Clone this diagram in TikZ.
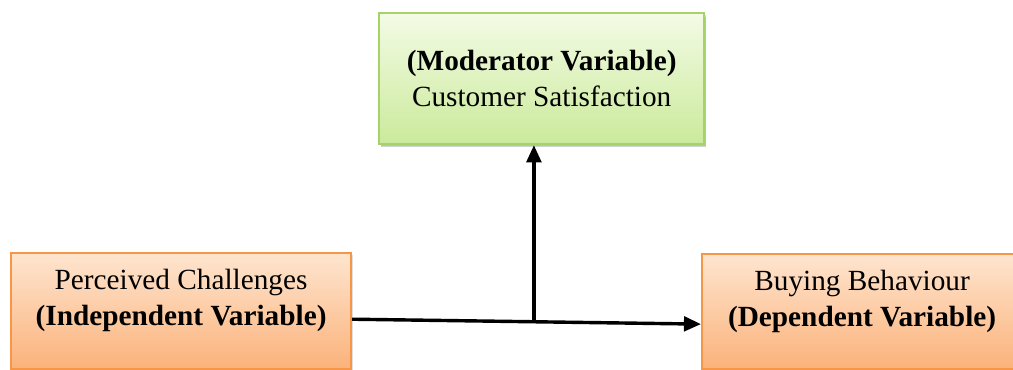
\documentclass[tikz,border=0pt]{standalone}
\usepackage{fontspec}
\setmainfont{Liberation Serif}
\usetikzlibrary{arrows.meta,calc,shadows,positioning}

\definecolor{modline}{HTML}{A6D26A}
\definecolor{modtop}{HTML}{F3FBE5}
\definecolor{modbot}{HTML}{CBEA9B}
\definecolor{varline}{HTML}{F79646}
\definecolor{vartop}{HTML}{FEE5CF}
\definecolor{varbot}{HTML}{FBB27A}

\tikzset{
	varbox/.style={draw=varline, line width=0.9pt, top color=vartop, bottom color=varbot,
		inner sep=0pt, align=center, anchor=north west,
		font=\fontsize{12}{14.8}\selectfont,
		drop shadow={shadow xshift=0.8pt, shadow yshift=-0.8pt, opacity=0.25}},
	modbox/.style={varbox, draw=modline, top color=modtop, bottom color=modbot,
		drop shadow={shadow xshift=0.6pt, shadow yshift=-1.4pt, opacity=0.35}},
	link/.style={line width=1.4pt, -{Triangle[length=7pt,width=6pt]}}
}

\begin{document}
\begin{tikzpicture}[x=0.41pt,y=-0.41pt]
					\clip (0,0) rectangle (1013,369);

					\coordinate (modcorner) at (378,12);
					\coordinate (indcorner) at (10,252);
					\coordinate (depcorner) at (701,253);

					\node[modbox, minimum width=133.3pt, minimum height=53.7pt] (mod) at (modcorner) {\textbf{(Moderator Variable)}\\Customer Satisfaction};

					\node[varbox, minimum width=139.4pt, minimum height=47.6pt, text depth=11pt] (ind) at (indcorner) {Perceived Challenges\\\textbf{(Independent Variable)}};

					\node[varbox, minimum width=131.2pt, minimum height=47.2pt, text depth=11pt] (dep) at (depcorner) {Buying Behaviour\\\textbf{(Dependent Variable)}};

					\coordinate (start) at ([yshift=-3.3pt]ind.east);
					\coordinate (stop) at ([yshift=-5.1pt]dep.west);
					\coordinate (joint) at ($(start)!0.521!(stop)$);

					\draw[link] (start) -- (stop);
					\draw[link] (joint) -- (joint |- mod.south);
				\end{tikzpicture}
\end{document}
